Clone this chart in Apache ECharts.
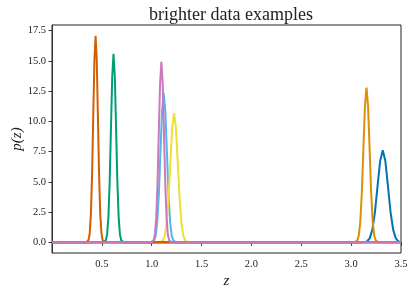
<!DOCTYPE html>
<html><head><meta charset="utf-8">
<script src="https://cdn.jsdelivr.net/npm/echarts@6/dist/echarts.min.js"></script>
<style>html,body{margin:0;padding:0;background:#fff}#c{width:416px;height:294px}</style>
</head><body><div id="c"></div>
<script>
const titleText = 'brighter data examples';
const xTicks = [0.5, 1.0, 1.5, 2.0, 2.5, 3.0, 3.5];
const yTicks = [0, 2.5, 5, 7.5, 10, 12.5, 15, 17.5];

const zLightBlue = [0.9908,1.0069,1.0231,1.0393,1.0554,1.0716,1.0877,1.1039,1.12,1.1362,1.1523,1.1685,1.1846,1.2008,1.2169,1.2331,1.2492];
const pLightBlue = [0,0.03,0.14,0.54,1.67,4.00,7.48,10.88,12.33,10.88,7.48,4.00,1.67,0.54,0.14,0.03,0];

const zYellow = [1.072,1.091,1.11,1.129,1.148,1.167,1.186,1.205,1.224,1.243,1.262,1.281,1.3,1.319,1.338,1.357,1.376];
const pYellow = [0,0.02,0.12,0.47,1.45,3.47,6.48,9.43,10.68,9.43,6.48,3.47,1.45,0.47,0.12,0.02,0];

const zBlue = [3.1074,3.1336,3.1598,3.186,3.2122,3.2384,3.2646,3.2908,3.317,3.3432,3.3694,3.3956,3.4218,3.448,3.4742,3.5];
const pBlue = [0,0.02,0.08,0.33,1.03,2.47,4.62,6.72,7.61,6.72,4.62,2.47,1.03,0.33,0.08,0.02];

const zOrange = [3.030,3.0455,3.061,3.0765,3.092,3.1075,3.123,3.1385,3.154,3.1695,3.185,3.2005,3.216,3.2315,3.247,3.2625,3.278];
const pOrange = [0,0.03,0.14,0.56,1.73,4.15,7.75,11.28,12.78,11.28,7.75,4.15,1.73,0.56,0.14,0.03,0];

const zGreen = [0.5146,0.5274,0.5402,0.553,0.5658,0.5786,0.5914,0.6042,0.617,0.6298,0.6426,0.6554,0.6682,0.681,0.6938,0.7066,0.7194];
const pGreen = [0,0.03,0.17,0.68,2.11,5.06,9.45,13.75,15.58,13.75,9.45,5.06,2.11,0.68,0.17,0.03,0];

const zVermillion = [0.343,0.3548,0.3665,0.3783,0.39,0.4018,0.4135,0.4253,0.437,0.4488,0.4605,0.4723,0.484,0.4958,0.5075,0.5193,0.531];
const pVermillion = [0,0.04,0.19,0.75,2.31,5.54,10.35,15.06,17.07,15.06,10.35,5.54,2.31,0.75,0.19,0.04,0];

const zPink = [0.993,1.006,1.019,1.032,1.045,1.058,1.071,1.084,1.097,1.11,1.123,1.136,1.149,1.162,1.175,1.188,1.201];
const pPink = [0,0.03,0.17,0.65,2.02,4.84,9.05,13.17,14.92,13.17,9.05,4.84,2.02,0.65,0.17,0.03,0];

const zMin = 0, zMax = 3.5;

function build(z, p) {
  const d = [[zMin, 0]];
  for (let i = 0; i < z.length; i++) d.push([z[i], p[i]]);
  d.push([zMax, 0]);
  return d;
}

const curves = [
  {z: zLightBlue, p: pLightBlue, c: '#56B4E9'},
  {z: zYellow, p: pYellow, c: '#ECE133'},
  {z: zBlue, p: pBlue, c: '#0173B2'},
  {z: zOrange, p: pOrange, c: '#DE8F05'},
  {z: zGreen, p: pGreen, c: '#029E73'},
  {z: zVermillion, p: pVermillion, c: '#D55E00'},
  {z: zPink, p: pPink, c: '#CC78BC'}
];

const font = 'Liberation Serif';
const chart = echarts.init(document.getElementById('c'), null, {renderer: 'canvas'});
chart.setOption({
  animation: false,
  backgroundColor: '#fff',
  title: {text: titleText, left: 226, textAlign: 'center', top: 1,
    textStyle: {fontFamily: font, fontSize: 18, fontWeight: 'normal', color: '#222'}},
  grid: {left: 52, right: 15, top: 25, bottom: 41, containLabel: false, outerBoundsMode: 'none',
    show: true, borderColor: '#222', borderWidth: 1, backgroundColor: 'transparent'},
  xAxis: {
    type: 'value', min: zMin, max: zMax,
    name: 'z', nameLocation: 'middle', nameGap: 21, nameMoveOverlap: false,
    nameTextStyle: {fontFamily: font, fontStyle: 'italic', fontSize: 15, color: '#222'},
    axisLine: {show: true, lineStyle: {color: '#333', width: 1}},
    axisTick: {show: true, length: 3.5, lineStyle: {color: '#333'}, customValues: xTicks},
    axisLabel: {customValues: xTicks, fontFamily: font, fontSize: 10.5, color: '#222', margin: 6,
      formatter: v => v.toFixed(1)},
    splitLine: {show: false}
  },
  yAxis: {
    type: 'value', min: -0.88, max: 17.96,
    name: 'p(z)', nameLocation: 'middle', nameGap: 27, nameRotate: 90, nameMoveOverlap: false,
    nameTextStyle: {fontFamily: font, fontStyle: 'italic', fontSize: 15, color: '#222'},
    axisLine: {show: true, lineStyle: {color: '#333', width: 1}},
    axisTick: {show: true, length: 3.5, lineStyle: {color: '#333'}, customValues: yTicks},
    axisLabel: {customValues: yTicks, fontFamily: font, fontSize: 10.5, color: '#222', margin: 6,
      formatter: v => v.toFixed(1)},
    splitLine: {show: false}
  },
  series: curves.map((c, i) => ({
    type: 'line', data: build(c.z, c.p), showSymbol: false, symbol: 'none', z: 2 + i,
    lineStyle: {color: c.c, width: 2}, itemStyle: {color: c.c}
  }))
});
</script>
</body></html>
